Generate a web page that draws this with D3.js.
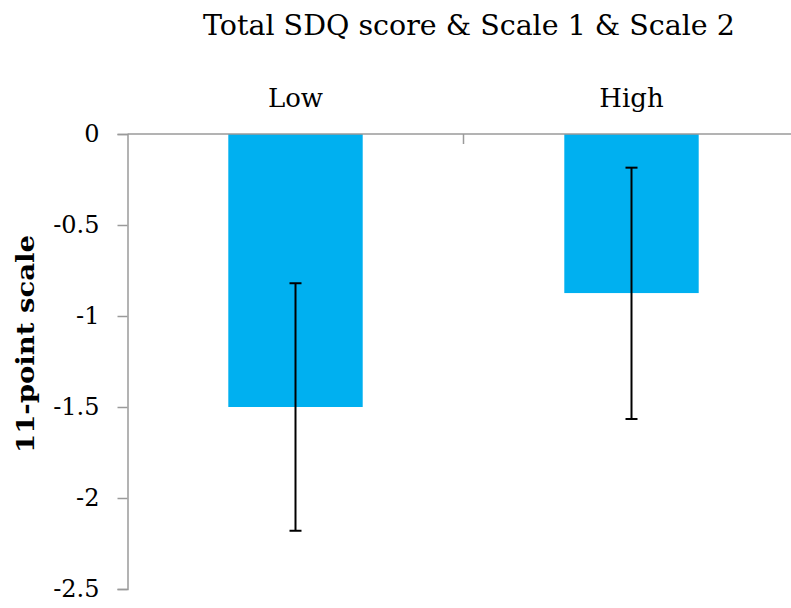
<!DOCTYPE html>
<html><head><meta charset="utf-8">
<script src="https://cdn.jsdelivr.net/npm/d3@7"></script>
<style>body{margin:0;background:#fff}svg{display:block}text{font-family:"DejaVu Serif",serif;fill:#000}</style>
</head><body>
<script>
const categories = ["Low", "High"];
const values = [-1.5, -0.874];
const errLow = [-2.18, -1.566];
const errHigh = [-0.82, -0.185];
const yTicks = [0, -0.5, -1, -1.5, -2, -2.5];
const title = "Total SDQ score & Scale 1 & Scale 2";
const yLabel = "11-point scale";

const W = 791, H = 608;
const svg = d3.select("body").append("svg").attr("width", W).attr("height", H);

const x = d3.scaleBand().domain(categories).range([127.5, 799.5]).paddingInner(0.6).paddingOuter(0.3);
const y = d3.scaleLinear().domain([0, -2.5]).range([134, 589]);

const axisColor = "#9a9a9a";

// bars
svg.selectAll("rect.bar").data(values).join("rect")
  .attr("x", (d,i) => x(categories[i]))
  .attr("width", x.bandwidth())
  .attr("y", y(0))
  .attr("height", d => y(d) - y(0))
  .attr("fill", "#00B0F0");

// y axis
const yAxis = svg.append("g").attr("transform", "translate(127.5,0)")
  .call(d3.axisLeft(y).tickValues(yTicks).tickSize(10).tickPadding(18).tickFormat(d => d3.format("")(d).replace("−","-")));
yAxis.select(".domain").attr("stroke", axisColor).attr("stroke-width", 1.5);
yAxis.selectAll(".tick line").attr("stroke", axisColor).attr("stroke-width", 1.5);
yAxis.selectAll(".tick text").attr("font-size", 24).attr("font-family", '"DejaVu Serif", serif').attr("fill", "#000");

// x axis at top (value 0)
const xAxis = svg.append("g").attr("transform", `translate(0,${y(0)})`)
  .call(d3.axisBottom(x).tickSize(0).tickFormat(""));
xAxis.select(".domain").attr("stroke", axisColor).attr("stroke-width", 1.5).attr("d", `M127.5,0H${W}`);
// separator tick between categories
svg.append("line").attr("x1", x.step()+127.5).attr("x2", x.step()+127.5)
  .attr("y1", y(0)).attr("y2", y(0)+10).attr("stroke", axisColor).attr("stroke-width", 1.5);

// category labels above
svg.selectAll("text.cat").data(categories).join("text")
  .attr("class","cat")
  .attr("x", d => x(d) + x.bandwidth()/2)
  .attr("y", 107)
  .attr("text-anchor","middle")
  .attr("font-size", 26)
  .text(d => d);

// error bars
const eg = svg.append("g").attr("stroke", "#000").attr("stroke-width", 2);
categories.forEach((c,i) => {
  const cx = x(c) + x.bandwidth()/2;
  eg.append("line").attr("x1",cx).attr("x2",cx).attr("y1",y(errLow[i])).attr("y2",y(errHigh[i]));
  [errLow[i], errHigh[i]].forEach(v => {
    eg.append("line").attr("x1",cx-6).attr("x2",cx+6).attr("y1",y(v)).attr("y2",y(v));
  });
});

// title
svg.append("text").attr("x", 469).attr("y", 35).attr("text-anchor","middle")
  .attr("font-size", 28.5).text(title);

// y label
svg.append("text").attr("transform", "translate(34,344) rotate(-90)")
  .attr("text-anchor","middle").attr("font-size", 25).attr("font-weight","bold")
  .attr("textLength", 218).attr("lengthAdjust", "spacingAndGlyphs").text(yLabel);
</script>
</body></html>
